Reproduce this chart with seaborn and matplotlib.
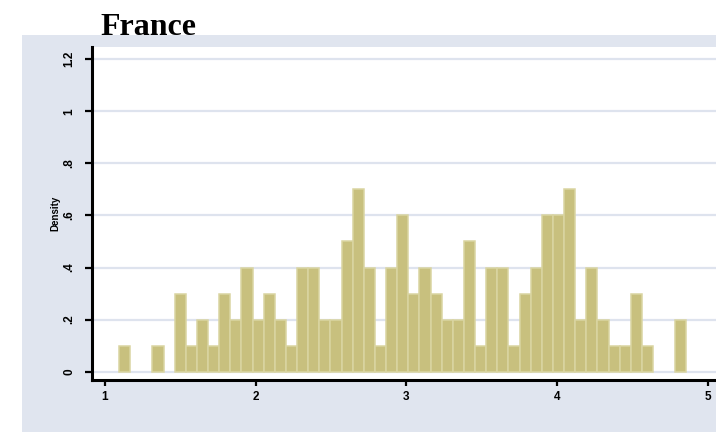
import numpy as np
import pandas as pd
import matplotlib
matplotlib.use("Agg")
import matplotlib.pyplot as plt
from matplotlib.patches import Rectangle
import seaborn as sns

# Histogram of the French series: bin layout and bar heights (density)
bin_start = 1.0935
bin_width = 0.0738
density = [
    0.1, 0.0, 0.0, 0.1, 0.0,
    0.3, 0.1, 0.2, 0.1, 0.3, 0.2, 0.4, 0.2, 0.3, 0.2,
    0.1, 0.4, 0.4, 0.2, 0.2, 0.5, 0.7, 0.4, 0.1, 0.4,
    0.6, 0.3, 0.4, 0.3, 0.2, 0.2, 0.5, 0.1, 0.4, 0.4,
    0.1, 0.3, 0.4, 0.6, 0.6, 0.7, 0.2, 0.4, 0.2, 0.1,
    0.1, 0.3, 0.1,
    0.0, 0.0, 0.2,
]
y_ticks = [0, 0.2, 0.4, 0.6, 0.8, 1.0, 1.2]
y_labels = ["0", ".2", ".4", ".6", ".8", "1", "1.2"]
x_ticks = [1, 2, 3, 4, 5]
x_labels = ["1", "2", "3", "4", "5"]

n_bins = len(density)
edges = [bin_start + bin_width * i for i in range(n_bins + 1)]
centers = [(edges[i] + edges[i + 1]) / 2 for i in range(n_bins)]
df = pd.DataFrame({"value": centers, "density": density})

sns.set_style("white")
plt.rcParams["font.family"] = ["Liberation Sans", "DejaVu Sans"]
plt.rcParams["text.color"] = "black"

W, H = 716, 432
fig = plt.figure(figsize=(W / 100, H / 100), dpi=100, facecolor="white")

# graph region backdrop behind the plot area
region_color = "#E0E5EF"
fig.add_artist(Rectangle((22 / W, 0), 1 - 22 / W, (H - 35) / H,
                         transform=fig.transFigure, facecolor=region_color,
                         edgecolor="none", zorder=-10))

ax = fig.add_axes([91.7 / W, (H - 380) / H, 1 - 91.7 / W, (380 - 47) / H])
ax.set_facecolor("white")

sns.histplot(data=df, x="value", weights="density", bins=edges, ax=ax,
             color="#C8C07E", edgecolor="#DAD5A2", linewidth=1.1,
             alpha=1, zorder=3)

# empty bins leave no outline on the baseline
for patch in ax.patches:
    if patch.get_height() == 0:
        patch.set_visible(False)

ax.set_xlim(0.912, 5.053)
ax.set_ylim(-0.032, 1.247)

ax.set_yticks(y_ticks)
ax.set_yticklabels(y_labels, rotation=90, va="center", fontsize=8.5,
                   fontweight="bold", family=["Liberation Sans Narrow", "Liberation Sans"])
ax.set_xticks(x_ticks)
ax.set_xticklabels(x_labels, fontsize=8.5, fontweight="bold",
                   family=["Liberation Sans Narrow", "Liberation Sans"])

ax.grid(axis="y", color="#DEE3EE", linewidth=1.6, zorder=0)
ax.grid(axis="x", visible=False)
ax.set_axisbelow(True)

for side in ["top", "right"]:
    ax.spines[side].set_visible(False)
for side in ["left", "bottom"]:
    ax.spines[side].set_linewidth(2.2)
    ax.spines[side].set_color("black")

ax.tick_params(axis="y", direction="out", length=5, width=1.6, pad=7,
               colors="black", left=True)
ax.tick_params(axis="x", direction="out", length=4, width=1.6, pad=4,
               colors="black", bottom=True)

ax.set_xlabel("")
ax.set_ylabel("Density", fontsize=7, fontweight="bold", labelpad=2,
              color="black", family=["Liberation Sans Narrow", "Liberation Sans"])

fig.text(100 / W, 1 - 35 / H, "France", family=["Liberation Serif"],
         fontweight="bold", fontsize=23, ha="left", va="baseline",
         color="black")

fig.savefig("out.png", dpi=100, facecolor="white")
